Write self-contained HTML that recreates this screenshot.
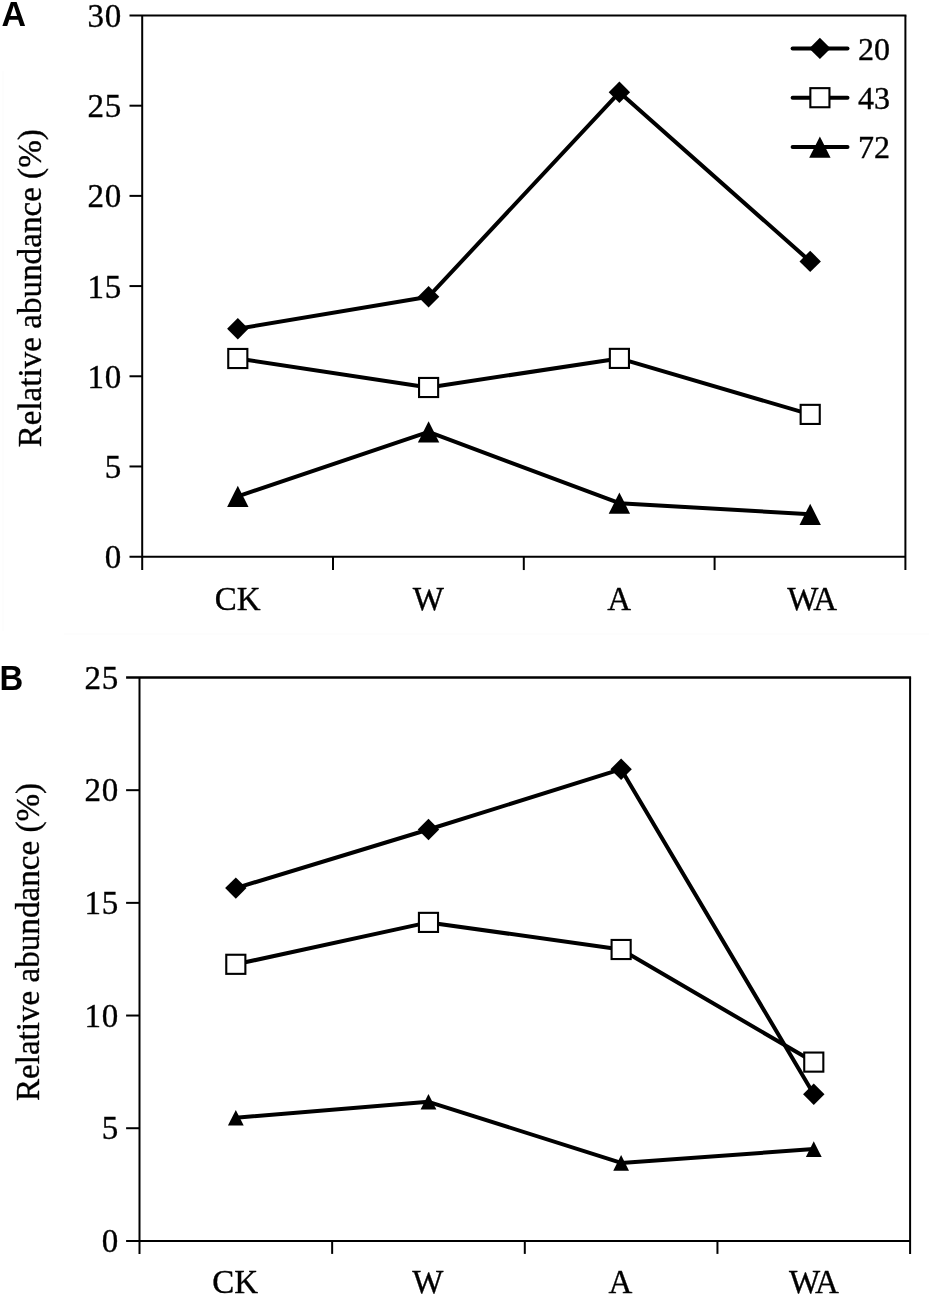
<!DOCTYPE html>
<html>
<head>
<meta charset="utf-8">
<title>Relative abundance</title>
<style>
html,body{margin:0;padding:0;background:#fff;}
body{width:932px;height:1298px;overflow:hidden;}
svg{display:block;will-change:transform;}
.s{font-family:"Liberation Serif",serif;font-size:33px;fill:#000;stroke:#000;stroke-width:0.35px;}
.b{font-family:"Liberation Sans",sans-serif;font-weight:bold;font-size:34.6px;fill:#000;}
</style>
</head>
<body>
<svg width="932" height="1298" viewBox="0 0 932 1298">
<rect x="0" y="0" width="932" height="1298" fill="#fff"/>
<rect x="2" y="71" width="2" height="560" fill="#fdfdfd"/>
<rect x="64" y="633" width="865" height="2" fill="#fdfdfd"/>
<text transform="translate(1.4,25.8) scale(0.98,1)" class="b">A</text>
<text transform="translate(-0.4,690.1) scale(0.95,1)" class="b">B</text>
<line x1="129.5" y1="15.5" x2="906.4" y2="15.5" stroke="#000" stroke-width="2.0"/>
<line x1="905.4" y1="15.5" x2="905.4" y2="570.05" stroke="#000" stroke-width="2.0"/>
<line x1="142.2" y1="15.5" x2="142.2" y2="570.05" stroke="#000" stroke-width="2.0"/>
<line x1="129.5" y1="556.65" x2="905.4" y2="556.65" stroke="#000" stroke-width="2.0"/>
<line x1="333" y1="556.65" x2="333" y2="570.05" stroke="#000" stroke-width="2.0"/>
<line x1="523.8" y1="556.65" x2="523.8" y2="570.05" stroke="#000" stroke-width="2.0"/>
<line x1="714.6" y1="556.65" x2="714.6" y2="570.05" stroke="#000" stroke-width="2.0"/>
<text x="122" y="568.25" text-anchor="end" class="s" style="letter-spacing:0.8px">0</text>
<line x1="129.5" y1="466.46" x2="142.2" y2="466.46" stroke="#000" stroke-width="2.0"/>
<text x="122" y="478.06" text-anchor="end" class="s" style="letter-spacing:0.8px">5</text>
<line x1="129.5" y1="376.27" x2="142.2" y2="376.27" stroke="#000" stroke-width="2.0"/>
<text x="122" y="387.87" text-anchor="end" class="s" style="letter-spacing:0.8px">10</text>
<line x1="129.5" y1="286.07" x2="142.2" y2="286.07" stroke="#000" stroke-width="2.0"/>
<text x="122" y="297.68" text-anchor="end" class="s" style="letter-spacing:0.8px">15</text>
<line x1="129.5" y1="195.88" x2="142.2" y2="195.88" stroke="#000" stroke-width="2.0"/>
<text x="122" y="207.48" text-anchor="end" class="s" style="letter-spacing:0.8px">20</text>
<line x1="129.5" y1="105.69" x2="142.2" y2="105.69" stroke="#000" stroke-width="2.0"/>
<text x="122" y="117.29" text-anchor="end" class="s" style="letter-spacing:0.8px">25</text>
<text x="122" y="27.1" text-anchor="end" class="s" style="letter-spacing:0.8px">30</text>
<text x="237.6" y="609.9" text-anchor="middle" class="s">CK</text>
<text x="428.4" y="609.9" text-anchor="middle" class="s">W</text>
<text x="619.2" y="609.9" text-anchor="middle" class="s">A</text>
<text x="811.4" y="609.9" text-anchor="middle" class="s" style="letter-spacing:-1.4px">WA</text>
<text transform="translate(41,288.3) rotate(-90) scale(1.004,1.03)" text-anchor="middle" class="s">Relative abundance (%)</text>
<polyline points="237.8,328.8 428.6,296.7 619.4,92.3 810.2,261.4" fill="none" stroke="#000" stroke-width="4.0" stroke-linejoin="round"/>
<polygon points="237.8,318.1 248.5,328.8 237.8,339.5 227.1,328.8" fill="#000"/>
<polygon points="428.6,286 439.3,296.7 428.6,307.4 417.9,296.7" fill="#000"/>
<polygon points="619.4,81.6 630.1,92.3 619.4,103 608.7,92.3" fill="#000"/>
<polygon points="810.2,250.7 820.9,261.4 810.2,272.1 799.5,261.4" fill="#000"/>
<polyline points="237.8,358.5 428.6,387.5 619.4,358.4 810.2,414.4" fill="none" stroke="#000" stroke-width="4.0" stroke-linejoin="round"/>
<rect x="228.25" y="348.95" width="19.1" height="19.1" fill="#fff" stroke="#000" stroke-width="2.1"/>
<rect x="419.05" y="377.95" width="19.1" height="19.1" fill="#fff" stroke="#000" stroke-width="2.1"/>
<rect x="609.85" y="348.85" width="19.1" height="19.1" fill="#fff" stroke="#000" stroke-width="2.1"/>
<rect x="800.65" y="404.85" width="19.1" height="19.1" fill="#fff" stroke="#000" stroke-width="2.1"/>
<polyline points="237.8,496.3 428.6,431.8 619.4,503.2 810.2,514.3" fill="none" stroke="#000" stroke-width="4.0" stroke-linejoin="round"/>
<polygon points="237.8,485.7 248.5,506.9 227.1,506.9" fill="#000"/>
<polygon points="428.6,421.2 439.3,442.4 417.9,442.4" fill="#000"/>
<polygon points="619.4,492.6 630.1,513.8 608.7,513.8" fill="#000"/>
<polygon points="810.2,503.7 820.9,524.9 799.5,524.9" fill="#000"/>
<line x1="792.6" y1="48.4" x2="847.5" y2="48.4" stroke="#000" stroke-width="4.0" stroke-linecap="round"/>
<polygon points="819.9,37.7 830.6,48.4 819.9,59.1 809.2,48.4" fill="#000"/>
<text x="858" y="59.7" class="s" style="font-size:32px">20</text>
<line x1="792.6" y1="97.7" x2="847.5" y2="97.7" stroke="#000" stroke-width="4.0" stroke-linecap="round"/>
<rect x="810.35" y="88.15" width="19.1" height="19.1" fill="#fff" stroke="#000" stroke-width="2.1"/>
<text x="858" y="108.9" class="s" style="font-size:32px">43</text>
<line x1="792.6" y1="147.1" x2="847.5" y2="147.1" stroke="#000" stroke-width="4.0" stroke-linecap="round"/>
<polygon points="819.9,136.5 830.6,157.7 809.2,157.7" fill="#000"/>
<text x="858" y="158" class="s" style="font-size:32px">72</text>
<line x1="126.1" y1="677.5" x2="911.1" y2="677.5" stroke="#000" stroke-width="2.5"/>
<line x1="910.1" y1="677.5" x2="910.1" y2="1253.9" stroke="#000" stroke-width="2.0"/>
<line x1="139.5" y1="677.5" x2="139.5" y2="1253.9" stroke="#000" stroke-width="2.0"/>
<line x1="126.1" y1="1240.9" x2="910.1" y2="1240.9" stroke="#000" stroke-width="2.0"/>
<line x1="332.15" y1="1240.9" x2="332.15" y2="1253.9" stroke="#000" stroke-width="2.0"/>
<line x1="524.8" y1="1240.9" x2="524.8" y2="1253.9" stroke="#000" stroke-width="2.0"/>
<line x1="717.45" y1="1240.9" x2="717.45" y2="1253.9" stroke="#000" stroke-width="2.0"/>
<text x="119.1" y="1252.1" text-anchor="end" class="s" style="letter-spacing:0.8px">0</text>
<line x1="126.1" y1="1128.22" x2="139.5" y2="1128.22" stroke="#000" stroke-width="2.0"/>
<text x="119.1" y="1139.42" text-anchor="end" class="s" style="letter-spacing:0.8px">5</text>
<line x1="126.1" y1="1015.54" x2="139.5" y2="1015.54" stroke="#000" stroke-width="2.0"/>
<text x="119.1" y="1026.74" text-anchor="end" class="s" style="letter-spacing:0.8px">10</text>
<line x1="126.1" y1="902.86" x2="139.5" y2="902.86" stroke="#000" stroke-width="2.0"/>
<text x="119.1" y="914.06" text-anchor="end" class="s" style="letter-spacing:0.8px">15</text>
<line x1="126.1" y1="790.18" x2="139.5" y2="790.18" stroke="#000" stroke-width="2.0"/>
<text x="119.1" y="801.38" text-anchor="end" class="s" style="letter-spacing:0.8px">20</text>
<text x="119.1" y="688.7" text-anchor="end" class="s" style="letter-spacing:0.8px">25</text>
<text x="235.22" y="1292.6" text-anchor="middle" class="s">CK</text>
<text x="427.88" y="1292.6" text-anchor="middle" class="s">W</text>
<text x="620.52" y="1292.6" text-anchor="middle" class="s">A</text>
<text x="813.17" y="1292.6" text-anchor="middle" class="s" style="letter-spacing:-1.4px">WA</text>
<text transform="translate(39,942) rotate(-90) scale(1.004,1.03)" text-anchor="middle" class="s">Relative abundance (%)</text>
<polyline points="235.82,888.1 428.48,829.5 621.12,769.2 813.77,1094.2" fill="none" stroke="#000" stroke-width="4.0" stroke-linejoin="round"/>
<polygon points="235.82,877.4 246.52,888.1 235.82,898.8 225.12,888.1" fill="#000"/>
<polygon points="428.48,818.8 439.18,829.5 428.48,840.2 417.78,829.5" fill="#000"/>
<polygon points="621.12,758.5 631.83,769.2 621.12,779.9 610.42,769.2" fill="#000"/>
<polygon points="813.77,1083.5 824.48,1094.2 813.77,1104.9 803.07,1094.2" fill="#000"/>
<polyline points="235.82,964.3 428.48,922.4 621.12,949.5 813.77,1062.1" fill="none" stroke="#000" stroke-width="4.0" stroke-linejoin="round"/>
<rect x="226.27" y="954.75" width="19.1" height="19.1" fill="#fff" stroke="#000" stroke-width="2.1"/>
<rect x="418.93" y="912.85" width="19.1" height="19.1" fill="#fff" stroke="#000" stroke-width="2.1"/>
<rect x="611.58" y="939.95" width="19.1" height="19.1" fill="#fff" stroke="#000" stroke-width="2.1"/>
<rect x="804.23" y="1052.55" width="19.1" height="19.1" fill="#fff" stroke="#000" stroke-width="2.1"/>
<polyline points="235.82,1117.7 428.48,1101.8 621.12,1162.9 813.77,1149.1" fill="none" stroke="#000" stroke-width="4.0" stroke-linejoin="round"/>
<polygon points="235.82,1109.9 243.72,1125.5 227.92,1125.5" fill="#000"/>
<polygon points="428.48,1094 436.38,1109.6 420.58,1109.6" fill="#000"/>
<polygon points="621.12,1155.1 629.02,1170.7 613.23,1170.7" fill="#000"/>
<polygon points="813.77,1141.3 821.67,1156.9 805.88,1156.9" fill="#000"/>
</svg>
</body>
</html>
